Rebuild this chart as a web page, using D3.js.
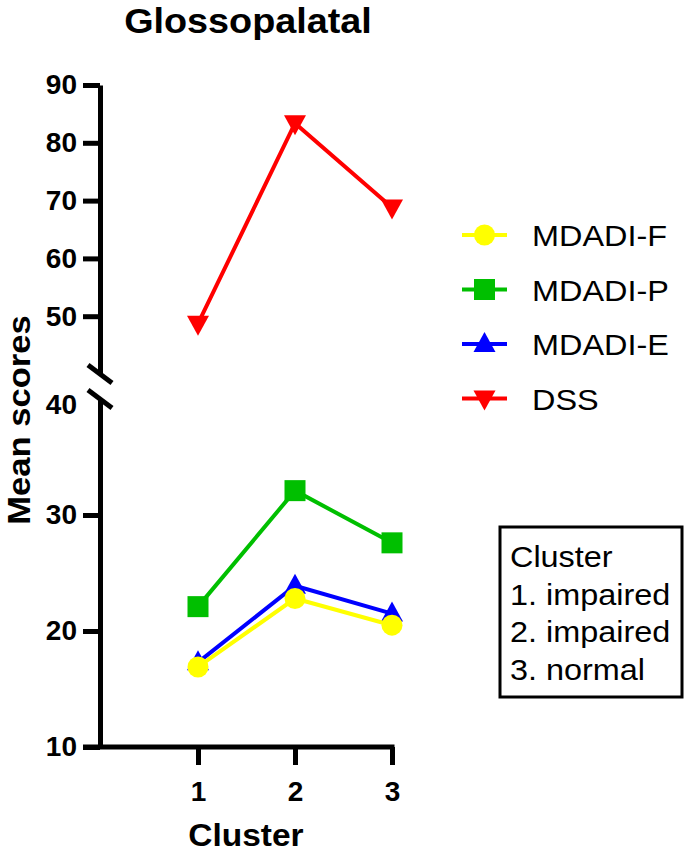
<!DOCTYPE html>
<html>
<head>
<meta charset="utf-8">
<script src="https://cdn.jsdelivr.net/npm/d3@7"></script>
<style>
  body { margin: 0; background: #fff; }
  text { font-family: "Liberation Sans", Arial, sans-serif; }
</style>
</head>
<body>
<div id="body"></div>
<script>
// data
var clusters = [1, 2, 3];
var mdadiF = [16.9, 22.8, 20.5];
var mdadiP = [22.1, 32.1, 27.6];
var mdadiE = [17.3, 23.9, 21.5];
var dss = [48.7, 83.4, 68.8];
var lowTicks = [10, 20, 30, 40];
var highTicks = [50, 60, 70, 80, 90];
var clusterNotes = ['Cluster', '1. impaired', '2. impaired', '3. normal'];

// legend order, drawing order is reversed so yellow ends on top
var series = [
  { name: 'MDADI-F', values: mdadiF, color: '#ffff00', shape: 'circle' },
  { name: 'MDADI-P', values: mdadiP, color: '#00bf00', shape: 'square' },
  { name: 'MDADI-E', values: mdadiE, color: '#0000ff', shape: 'up' },
  { name: 'DSS', values: dss, color: '#ff0000', shape: 'down' }
];

var width = 685, height = 852;
var stretch = 1.08;

var svg = d3.select('#body')
  .append('svg')
  .attr('width', width)
  .attr('height', height);

// scales: x, and a y axis broken at 40
var x = d3.scaleLinear().domain([0, 3]).range([101, 392]);
var yLow = d3.scaleLinear().domain([10, 40]).range([747, 399]);
var yHigh = d3.scaleLinear().domain([40, 90]).range([374, 85]);
function y(v) { return v <= 40 ? yLow(v) : yHigh(v); }

// text helper, widened a bit like the original font
function addText(g, tx, ty, str, size, weight, anchor, rotate) {
  return g.append('text')
    .attr('transform', 'translate(' + tx + ',' + ty + ')' + (rotate ? ' rotate(' + rotate + ')' : '') + ' scale(' + stretch + ',1)')
    .attr('text-anchor', anchor)
    .style('font-size', size + 'px')
    .style('font-weight', weight)
    .text(str);
}

// title and axis titles
addText(svg, 248, 33, 'Glossopalatal', 35, 'bold', 'middle');
addText(svg, 30, 420, 'Mean scores', 32, 'bold', 'middle', -90);
addText(svg, 246, 846, 'Cluster', 31, 'bold', 'middle');

// y axes
function styleAxis(g) {
  g.selectAll('path, line').attr('stroke', '#000').attr('stroke-width', 5);
  g.selectAll('text')
    .style('font-size', '28px')
    .style('font-weight', 'bold')
    .attr('fill', '#000');
}

var gHigh = svg.append('g')
  .attr('transform', 'translate(100,0)')
  .call(d3.axisLeft(yHigh).tickValues(highTicks).tickSize(17).tickSizeOuter(0).tickPadding(6));
styleAxis(gHigh);

var gLow = svg.append('g')
  .attr('transform', 'translate(100,0)')
  .call(d3.axisLeft(yLow).tickValues(lowTicks).tickSize(17).tickSizeOuter(0).tickPadding(6));
styleAxis(gLow);
gLow.selectAll('.tick').filter(function(d) { return d === 40; }).select('line').remove();
gLow.selectAll('.tick').filter(function(d) { return d === 40; }).select('text').attr('dy', '0.5em');

// break marks
[yHigh(40), yLow(40)].forEach(function(by) {
  svg.append('line')
    .attr('x1', 88).attr('y1', by - 9)
    .attr('x2', 112).attr('y2', by + 9)
    .attr('stroke', '#000')
    .attr('stroke-width', 5);
});

// x axis
var gx = svg.append('g')
  .attr('transform', 'translate(0,' + yLow(10) + ')')
  .call(d3.axisBottom(x).tickValues(clusters).tickFormat(d3.format('d')).tickSize(18).tickSizeOuter(0).tickPadding(16));
styleAxis(gx);
gx.select('.domain').remove();
gx.append('line')
  .attr('x1', x(0) - 18).attr('x2', x(3) + 2.5)
  .attr('stroke', '#000').attr('stroke-width', 5);

// marker shapes
function marker(g, shape, color, cx, cy) {
  if (shape === 'circle') {
    g.append('circle').attr('cx', cx).attr('cy', cy).attr('r', 10.5).attr('fill', color);
  } else if (shape === 'square') {
    g.append('rect').attr('x', cx - 10.5).attr('y', cy - 10.5).attr('width', 21).attr('height', 21).attr('fill', color);
  } else if (shape === 'up') {
    g.append('path').attr('d', 'M' + cx + ',' + (cy - 12) + 'L' + (cx + 11) + ',' + (cy + 8) + 'L' + (cx - 11) + ',' + (cy + 8) + 'Z').attr('fill', color);
  } else {
    g.append('path').attr('d', 'M' + cx + ',' + (cy + 12) + 'L' + (cx + 11) + ',' + (cy - 8) + 'L' + (cx - 11) + ',' + (cy - 8) + 'Z').attr('fill', color);
  }
}

var line = d3.line()
  .x(function(d, i) { return x(clusters[i]); })
  .y(function(d) { return y(d); });

series.slice().reverse().forEach(function(s) {
  var g = svg.append('g');
  g.append('path')
    .attr('d', line(s.values))
    .attr('fill', 'none')
    .attr('stroke', s.color)
    .attr('stroke-width', 4);
  s.values.forEach(function(v, i) {
    marker(g, s.shape, s.color, x(clusters[i]), y(v));
  });
});

// legend
var legend = svg.append('g');
series.forEach(function(s, i) {
  var ly = 235 + i * 54.5;
  legend.append('line')
    .attr('x1', 462).attr('x2', 507)
    .attr('y1', ly).attr('y2', ly)
    .attr('stroke', s.color).attr('stroke-width', 4);
  marker(legend, s.shape, s.color, 484.5, ly);
  addText(legend, 532, ly + 11, s.name, 30, 'normal', 'start');
});

// cluster note box
var note = svg.append('g');
note.append('rect')
  .attr('x', 500).attr('y', 527)
  .attr('width', 182).attr('height', 170)
  .attr('fill', 'none').attr('stroke', '#000').attr('stroke-width', 3);
clusterNotes.forEach(function(t, i) {
  addText(note, 510, 567 + i * 37.7, t, 30, 'normal', 'start');
});
</script>
</body>
</html>
